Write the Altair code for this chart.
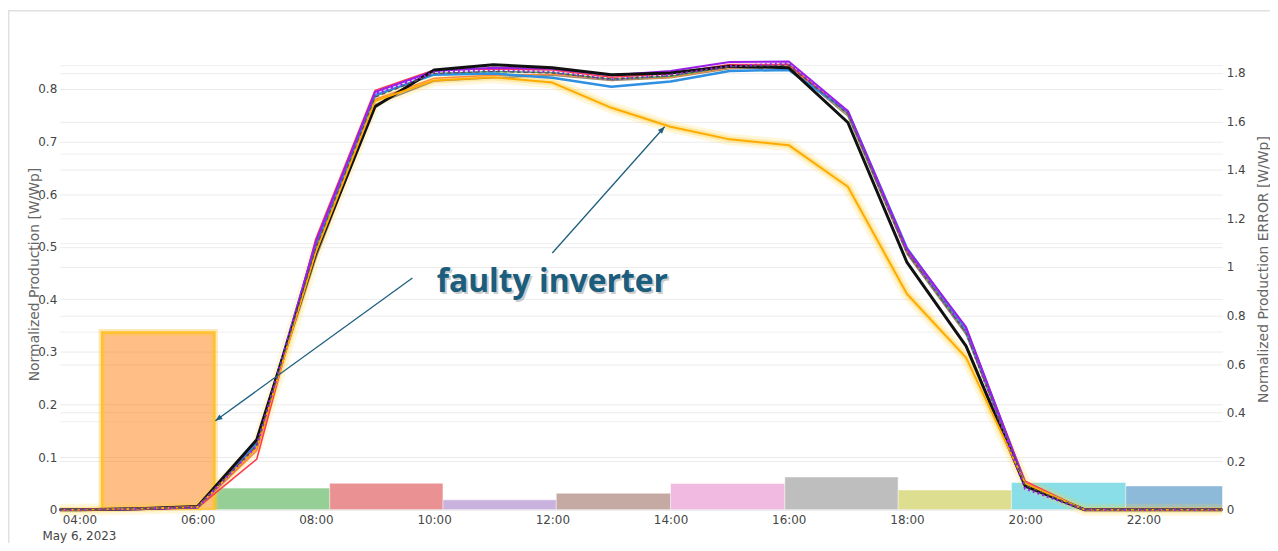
import altair as alt
import pandas as pd

# ---------------- data ----------------
DAY = "2023-05-06T"
times = ["03:40", "04:00", "05:00", "06:00", "07:00", "08:00", "09:00", "10:00", "11:00",
         "12:00", "13:00", "14:00", "15:00", "16:00", "17:00", "18:00", "19:00", "20:00",
         "21:00", "22:00", "23:00", "23:20"]

inv_tan = [0, 0, 0.002, 0.006, 0.128, 0.478, 0.770, 0.815, 0.821, 0.826, 0.816, 0.821, 0.838, 0.842, 0.748, 0.486, 0.333, 0.045, 0, 0, 0, 0]
inv_salmon = [0, 0, 0.001, 0.004, 0.112, 0.494, 0.780, 0.820, 0.826, 0.828, 0.818, 0.822, 0.840, 0.843, 0.753, 0.490, 0.338, 0.048, 0, 0, 0, 0]
inv_green = [0, 0, 0.002, 0.005, 0.120, 0.500, 0.786, 0.829, 0.833, 0.831, 0.818, 0.824, 0.842, 0.847, 0.752, 0.490, 0.337, 0.047, 0, 0, 0, 0]
inv_red = [0, 0, 0.001, 0.004, 0.096, 0.515, 0.797, 0.836, 0.838, 0.836, 0.822, 0.829, 0.846, 0.846, 0.754, 0.492, 0.344, 0.054, 0, 0, 0, 0]
inv_blue = [0, 0, 0.002, 0.005, 0.126, 0.505, 0.788, 0.827, 0.829, 0.821, 0.804, 0.814, 0.834, 0.836, 0.757, 0.497, 0.343, 0.048, 0, 0, 0, 0]
inv_purple = [0, 0, 0.001, 0.004, 0.118, 0.510, 0.794, 0.834, 0.840, 0.838, 0.826, 0.834, 0.851, 0.852, 0.758, 0.496, 0.347, 0.050, 0, 0, 0, 0]
inv_black = [0, 0, 0.002, 0.006, 0.133, 0.488, 0.766, 0.836, 0.846, 0.840, 0.827, 0.830, 0.843, 0.840, 0.736, 0.470, 0.311, 0.045, 0, 0, 0, 0]
inv_faulty = [0, 0, 0.002, 0.005, 0.118, 0.490, 0.777, 0.816, 0.822, 0.812, 0.764, 0.728, 0.704, 0.693, 0.614, 0.410, 0.289, 0.050, 0, 0, 0, 0]
inv_dotted = [0, 0, 0.002, 0.005, 0.122, 0.505, 0.790, 0.831, 0.835, 0.832, 0.818, 0.826, 0.843, 0.848, 0.755, 0.490, 0.338, 0.040, 0, 0, 0, 0]
inv_dashed = [0, 0, 0.002, 0.005, 0.122, 0.498, 0.784, 0.829, 0.833, 0.830, 0.819, 0.825, 0.842, 0.845, 0.752, 0.489, 0.336, 0.046, 0, 0, 0, 0]

# error bars (right axis)
bar_start = ["04:23", "06:17", "08:14", "10:09", "12:04", "14:00", "15:56", "17:51", "19:46", "21:42"]
bar_end = ["06:17", "08:14", "10:09", "12:04", "14:00", "15:56", "17:51", "19:46", "21:42", "23:37"]
bar_error = [0.73, 0.089, 0.109, 0.041, 0.068, 0.108, 0.135, 0.081, 0.112, 0.098]
bar_colors = ["#ff7f0e", "#2ca02c", "#d62728", "#9467bd", "#8c564b",
              "#e377c2", "#7f7f7f", "#bcbd22", "#17becf", "#1f77b4"]

left_ticks = [0, 0.1, 0.2, 0.3, 0.4, 0.5, 0.6, 0.7, 0.8]
right_ticks = [0, 0.2, 0.4, 0.6, 0.8, 1, 1.2, 1.4, 1.6, 1.8]
extra_grid = [1, 2, 3, 4, 5]
x_tick_hours = [4, 6, 8, 10, 12, 14, 16, 18, 20, 22]

# annotation
arrow_from_time = ["09:38", "12:00"]
arrow_from_val = [0.4405, 0.488]
arrow_to_time = ["06:18", "13:54"]
arrow_to_val = [0.169, 0.728]
arrow_angle = [234, 41.7]
note_text = "faulty inverter"
note_time = "12:00"
note_val = 0.432

# ---------------- layout ----------------
W, H = 1169, 451
LABEL_FONT = "DejaVu Sans"
TEXT_COL = "#444444"
GRID_COL = "#ebebeb"

series = [
    ("tan", inv_tan, "#9c8b6e", 1.5),
    ("salmon", inv_salmon, "#ff8a3d", 1.5),
    ("green", inv_green, "#3cb44b", 1.5),
    ("red", inv_red, "#ff3b4e", 1.6),
    ("blue", inv_blue, "#2f8fe0", 2.5),
    ("purple", inv_purple, "#9b1fe8", 2.0),
    ("black", inv_black, "#111111", 3.0),
]

x_scale = alt.Scale(domain=[alt.DateTime(year=2023, month=5, date=6, hours=3, minutes=40),
                            alt.DateTime(year=2023, month=5, date=6, hours=23, minutes=20)])
x_axis = alt.Axis(values=[alt.DateTime(year=2023, month=5, date=6, hours=h) for h in x_tick_hours],
                  format="%H:%M", grid=False, domain=False, ticks=False, labelPadding=5,
                  labelFont=LABEL_FONT, labelFontSize=12, labelColor=TEXT_COL, title=None)

def X(field):
    return alt.X(field, type="temporal", scale=x_scale, axis=x_axis, title=None)

left_scale = alt.Scale(domain=[0, 0.8526], nice=False, zero=True)
left_axis = alt.Axis(orient="left", values=left_ticks, format=".1~f", grid=True, gridColor=GRID_COL,
                     domain=False, ticks=False, labelPadding=3, labelFont=LABEL_FONT,
                     labelFontSize=12, labelColor=TEXT_COL,
                     title="Normalized Production [W/Wp]", titleFont=LABEL_FONT, titleFontSize=14,
                     titleFontWeight="normal", titleColor="#666666", titleAngle=-90,
                     titleBaseline="bottom", titleAlign="center", titleX=-18, titleY=214)

def Yl(field):
    return alt.Y(field, type="quantitative", scale=left_scale, axis=left_axis, title=None)

# line data
frames = []
for name, vals in [(s[0], s[1]) for s in series] + [("faulty", inv_faulty), ("dotted", inv_dotted),
                                                    ("dashed", inv_dashed)]:
    frames.append(pd.DataFrame({"time": [DAY + t for t in times], "value": vals, "series": name}))
lines_df = pd.concat(frames, ignore_index=True)

base = alt.Chart(lines_df)
line_layers = []
for name, vals, col, sw in series:
    line_layers.append(base.transform_filter(alt.datum.series == name)
                       .mark_line(color=col, strokeWidth=sw, strokeJoin="round")
                       .encode(x=X("time"), y=Yl("value")))

faulty = base.transform_filter(alt.datum.series == "faulty")
glow1 = faulty.mark_line(color="#ffd23f", strokeWidth=12, opacity=0.18, strokeJoin="round").encode(x=X("time"), y=Yl("value"))
glow2 = faulty.mark_line(color="#ffcc33", strokeWidth=6, opacity=0.35, strokeJoin="round").encode(x=X("time"), y=Yl("value"))
faulty_line = faulty.mark_line(color="#ffaa00", strokeWidth=2, strokeJoin="round").encode(x=X("time"), y=Yl("value"))
dotted = base.transform_filter(alt.datum.series == "dotted").mark_line(
    color="#a020f0", strokeWidth=2.5, strokeDash=[2, 3]).encode(x=X("time"), y=Yl("value"))
dashed = base.transform_filter(alt.datum.series == "dashed").mark_line(
    color="#555555", strokeWidth=1.2, strokeDash=[4, 3]).encode(x=X("time"), y=Yl("value"))

# annotation
arrows_df = pd.DataFrame({
    "t0": [DAY + t for t in arrow_from_time], "v0": arrow_from_val,
    "t1": [DAY + t for t in arrow_to_time], "v1": arrow_to_val, "ang": arrow_angle})
ARROW_COL = "#1e5f7e"
arrow_rules = alt.Chart(arrows_df).mark_rule(color=ARROW_COL, strokeWidth=1.3).encode(
    x=X("t0"), y=Yl("v0"), x2="t1", y2="v1")
arrow_heads = alt.Chart(arrows_df).mark_point(
    shape="M0,0L-0.4,1L0.4,1Z", filled=True, size=200, color=ARROW_COL, opacity=1).encode(
    x=X("t1"), y=Yl("v1"), angle=alt.Angle("ang:Q", scale=None))

note_df = pd.DataFrame({"time": [DAY + note_time], "value": [note_val], "label": [note_text]})
note_shadow = alt.Chart(note_df).mark_text(
    font="Open Sans", fontSize=32, fontWeight="bold", color="#000000", opacity=0.2,
    dx=2, dy=2, align="center", baseline="middle").encode(x=X("time"), y=Yl("value"), text="label")
note = alt.Chart(note_df).mark_text(
    font="Open Sans", fontSize=32, fontWeight="bold", color="#1a5d7d",
    align="center", baseline="middle").encode(x=X("time"), y=Yl("value"), text="label")

date_df = pd.DataFrame({"time": [DAY + "04:00"], "label": ["May 6, 2023"]})
date_label = alt.Chart(date_df).mark_text(
    font=LABEL_FONT, fontSize=12, color=TEXT_COL, align="center", baseline="middle").encode(
    x=X("time"), y=alt.value(H + 26), text="label")

left_group = alt.layer(glow1, glow2, *line_layers, faulty_line, dotted, dashed,
                       arrow_rules, arrow_heads, note_shadow, note, date_label)

# bars
bars_df = pd.DataFrame({"start": [DAY + t for t in bar_start], "end": [DAY + t for t in bar_end],
                        "error": bar_error, "col": bar_colors})
right_scale = alt.Scale(domain=[0, 1.848], nice=False, zero=True)
right_axis = alt.Axis(orient="right", values=right_ticks, format=".1~f", grid=True, gridColor=GRID_COL,
                      domain=False, ticks=False, labelPadding=4, labelFont=LABEL_FONT,
                      labelFontSize=12, labelColor=TEXT_COL,
                      title="Normalized Production ERROR [W/Wp]", titleFont=LABEL_FONT, titleFontSize=14,
                      titleFontWeight="normal", titleColor="#666666", titleAngle=-90,
                      titleBaseline="bottom", titleAlign="center", titleX=48, titleY=209)

def Yr():
    return alt.Y("error:Q", scale=right_scale, axis=right_axis, title=None)

bars = alt.Chart(bars_df).mark_rect(clip=True, opacity=0.5, stroke="white", strokeWidth=0.5).encode(
    x=X("start"), x2="end", y=Yr(), y2=alt.datum(0),
    color=alt.Color("col:N", scale=None, legend=None))
orange_glow = alt.Chart(bars_df).transform_filter(alt.datum.col == "#ff7f0e").mark_rect(
    clip=True, fillOpacity=0, stroke="#ffc64a", strokeWidth=7, strokeOpacity=0.4).encode(
    x=X("start"), x2="end", y=Yr(), y2=alt.datum(0))
orange_edge = alt.Chart(bars_df).transform_filter(alt.datum.col == "#ff7f0e").mark_rect(
    clip=True, fillOpacity=0, stroke="#ffbf1f", strokeWidth=2.5, strokeOpacity=0.9).encode(
    x=X("start"), x2="end", y=Yr(), y2=alt.datum(0))
right_group = alt.layer(bars, orange_glow, orange_edge)

# hidden third scale that only contributes faint grid lines, plus outer card border
grid_df = pd.DataFrame({"g": [0]})
grid_axis = alt.Axis(orient="left", values=extra_grid, grid=True, gridColor="#efefef",
                     labels=False, ticks=False, domain=False, title=None)
grid_layer = alt.Chart(grid_df).mark_point(opacity=0).encode(
    y=alt.Y("g:Q", scale=alt.Scale(domain=[0, 5.04], nice=False), axis=grid_axis))
border = alt.Chart(grid_df).mark_rect(fillOpacity=0, stroke="#e0e0e0", strokeWidth=1.5).encode(
    x=alt.value(-51.3), x2=alt.value(W + 120), y=alt.value(-50.7), y2=alt.value(H + 120))
grid_group = alt.layer(grid_layer, border)

chart = alt.layer(grid_group, right_group, left_group).resolve_scale(y="independent").properties(
    width=W, height=H,
    autosize=alt.AutoSizeParams(type="none"),
    padding={"left": 52, "top": 52, "right": 48, "bottom": 32},
    background="white",
).configure_view(stroke=None)

chart.save("out.html", embed_options={"renderer": "svg", "actions": False})
